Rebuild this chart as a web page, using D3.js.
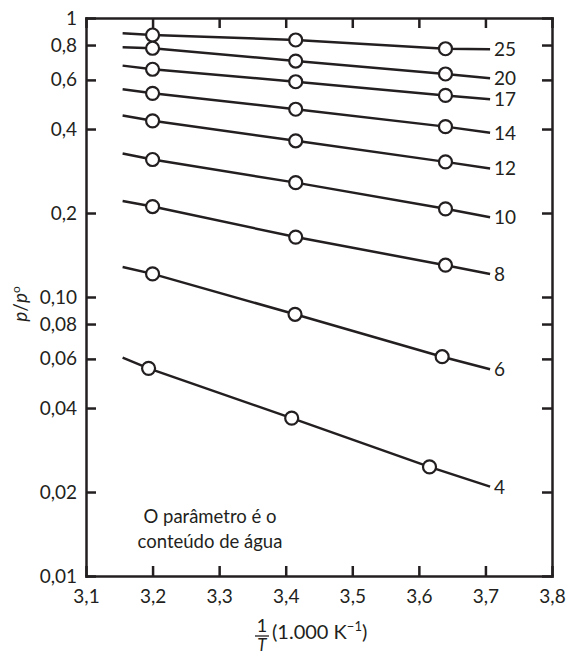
<!DOCTYPE html>
<html>
<head>
<meta charset="utf-8">
<script src="https://cdn.jsdelivr.net/npm/d3@7"></script>
<style>
  body { margin: 0; background: #fff; }
  svg text { font-family: Lato, "Open Sans", sans-serif; fill: #231f20; }
</style>
</head>
<body>
<div id="chart"></div>
<script>
// DATA -----------------------------------------------------------------
// water content (curve parameter)
const waterContent = [25, 20, 17, 14, 12, 10, 8, 6, 4];

// fitted line ends (1/T = lineStartX and lineEndX)
const lineStartX = 3.155;
const lineEndX = 3.707;
const fitStart = [0.882, 0.785, 0.675, 0.555, 0.447, 0.327, 0.221, 0.128, 0.0606];
const fitEnd = [0.772, 0.608, 0.511, 0.388, 0.289, 0.193, 0.121, 0.0551, 0.0209];

// measured points
const xLeft = [3.2, 3.2, 3.2, 3.2, 3.2, 3.2, 3.2, 3.2, 3.194];
const xMid = [3.415, 3.415, 3.415, 3.415, 3.415, 3.415, 3.415, 3.414, 3.409];
const xRight = [3.64, 3.64, 3.64, 3.64, 3.64, 3.64, 3.64, 3.635, 3.616];
const pLeft = [0.869, 0.779, 0.655, 0.537, 0.428, 0.311, 0.211, 0.121, 0.0555];
const pMid = [0.834, 0.701, 0.591, 0.471, 0.363, 0.257, 0.164, 0.0867, 0.0368];
const pRight = [0.776, 0.630, 0.528, 0.408, 0.305, 0.207, 0.130, 0.0611, 0.0246];

// axis ticks
const xTicks = [3.1, 3.2, 3.3, 3.4, 3.5, 3.6, 3.7, 3.8];
const xTickLabels = ['3,1', '3,2', '3,3', '3,4', '3,5', '3,6', '3,7', '3,8'];
const yTicks = [0.01, 0.02, 0.04, 0.06, 0.08, 0.1, 0.2, 0.4, 0.6, 0.8, 1];
const yTickLabels = ['0,01', '0,02', '0,04', '0,06', '0,08', '0,10', '0,2', '0,4', '0,6', '0,8', '1'];

// CHART ----------------------------------------------------------------
const width = 569, height = 656;
const ink = '#231f20';

const svg = d3.select('#chart')
  .append('svg')
  .attr('width', width)
  .attr('height', height);

const xScale = d3.scaleLinear()
  .domain([3.1, 3.8])
  .range([86, 552]);

const yScale = d3.scaleLog()
  .domain([0.01, 1])
  .range([576, 18]);

// axes, ticks pointing inward
const xFmt = d => xTickLabels[xTicks.indexOf(d)];
const yFmt = d => yTickLabels[yTicks.indexOf(d)];

svg.append('g')
  .attr('class', 'axis x-axis')
  .attr('transform', 'translate(0,' + yScale(0.01) + ')')
  .call(d3.axisBottom(xScale).tickValues(xTicks).tickFormat(xFmt)
    .tickSizeInner(-10).tickSizeOuter(0).tickPadding(14));

svg.append('g')
  .attr('class', 'axis')
  .attr('transform', 'translate(0,' + yScale(1) + ')')
  .call(d3.axisTop(xScale).tickValues(xTicks).tickFormat('')
    .tickSizeInner(-10).tickSizeOuter(0));

svg.append('g')
  .attr('class', 'axis y-axis')
  .attr('transform', 'translate(' + xScale(3.1) + ',0)')
  .call(d3.axisLeft(yScale).tickValues(yTicks).tickFormat(yFmt)
    .tickSizeInner(-10).tickSizeOuter(0).tickPadding(9));

svg.append('g')
  .attr('class', 'axis')
  .attr('transform', 'translate(' + xScale(3.8) + ',0)')
  .call(d3.axisRight(yScale).tickValues(yTicks).tickFormat('')
    .tickSizeInner(-10).tickSizeOuter(0));

svg.selectAll('.axis path, .axis line')
  .attr('stroke', ink)
  .attr('stroke-width', 2.5);
svg.selectAll('.axis path').attr('stroke-linecap', 'square');
svg.selectAll('.axis text')
  .attr('font-size', 19)
  .attr('fill', ink);

// series
const series = waterContent.map((w, i) => ({
  key: w,
  pts: [
    [lineStartX, fitStart[i]],
    [xLeft[i], pLeft[i]],
    [xMid[i], pMid[i]],
    [xRight[i], pRight[i]],
    [lineEndX, fitEnd[i]]
  ]
}));

const line = d3.line()
  .x(d => xScale(d[0]))
  .y(d => yScale(d[1]));

svg.selectAll('.fit')
  .data(series)
  .enter()
  .append('path')
  .attr('class', 'fit')
  .attr('d', d => line(d.pts))
  .attr('fill', 'none')
  .attr('stroke', ink)
  .attr('stroke-width', 2.5);

svg.selectAll('.pt')
  .data(series.flatMap(d => d.pts.slice(1, 4)))
  .enter()
  .append('circle')
  .attr('class', 'pt')
  .attr('cx', d => xScale(d[0]))
  .attr('cy', d => yScale(d[1]))
  .attr('r', 6.5)
  .attr('fill', '#fff')
  .attr('stroke', ink)
  .attr('stroke-width', 2.2);

svg.selectAll('.lbl')
  .data(series)
  .enter()
  .append('text')
  .attr('class', 'lbl')
  .attr('x', xScale(lineEndX) + 4)
  .attr('y', (d, i) => yScale(fitEnd[i]))
  .attr('dy', '0.36em')
  .attr('font-size', 19)
  .text(d => d.key);

// note
const note = svg.append('text')
  .attr('text-anchor', 'middle')
  .attr('font-size', 18.5);
note.append('tspan').attr('x', 210).attr('y', 523).text('O parâmetro é o');
note.append('tspan').attr('x', 210).attr('y', 548).text('conteúdo de água');

// y title
const yTitle = svg.append('text')
  .attr('transform', 'translate(27,304) rotate(-90)')
  .attr('text-anchor', 'middle')
  .attr('font-size', 19);
yTitle.append('tspan').attr('font-style', 'italic').text('p');
yTitle.append('tspan').text('/');
yTitle.append('tspan').attr('font-style', 'italic').text('p');
yTitle.append('tspan').attr('font-size', 12).attr('dy', -7).text('o');

// x title
svg.append('text')
  .attr('x', 262).attr('y', 632)
  .attr('text-anchor', 'middle')
  .attr('font-size', 18)
  .text('1');
svg.append('line')
  .attr('x1', 255).attr('x2', 269)
  .attr('y1', 636).attr('y2', 636)
  .attr('stroke', ink)
  .attr('stroke-width', 1.3);
svg.append('text')
  .attr('x', 262).attr('y', 651)
  .attr('text-anchor', 'middle')
  .attr('font-size', 17)
  .attr('font-style', 'italic')
  .text('T');
const xTitle = svg.append('text')
  .attr('x', 272).attr('y', 639)
  .attr('font-size', 20);
xTitle.append('tspan').text('(1.000 K');
xTitle.append('tspan').attr('font-size', 13).attr('dy', -8).text('−1');
xTitle.append('tspan').attr('dy', 8).text(')');
</script>
</body>
</html>
